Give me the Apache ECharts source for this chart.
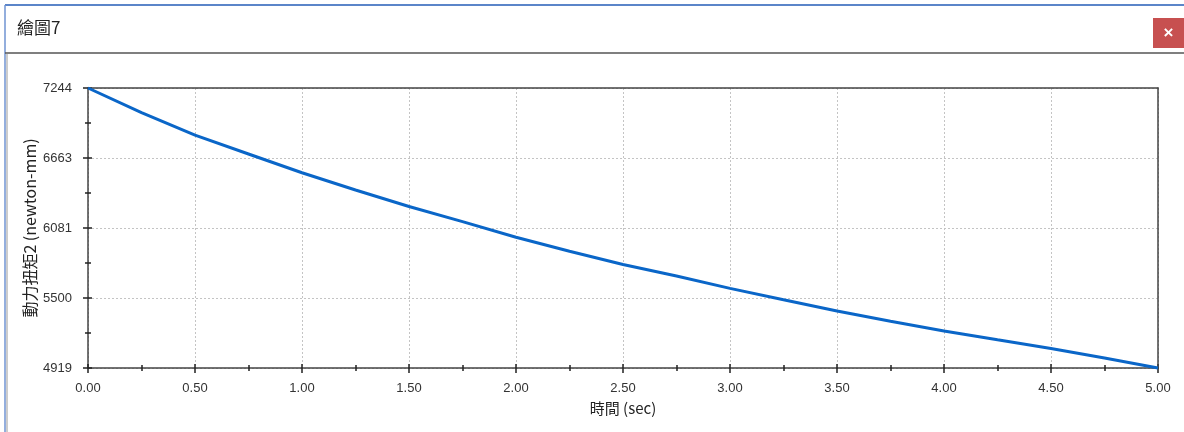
<!DOCTYPE html>
<html>
<head>
<meta charset="utf-8">
<title>繪圖7</title>
<script src="https://cdn.jsdelivr.net/npm/echarts@6/dist/echarts.min.js"></script>
<style>
  html, body { margin: 0; padding: 0; background: #ffffff; }
  #chart { width: 1184px; height: 432px; }
</style>
</head>
<body>
<div id="chart"></div>
<script>
// Sampled torque history of joint 2
const times = [0, 0.25, 0.5, 0.75, 1.0, 1.25, 1.5, 1.75, 2.0, 2.25, 2.5,
               2.75, 3.0, 3.25, 3.5, 3.75, 4.0, 4.25, 4.5, 4.75, 5.0];
const torque = [7244, 7040, 6852, 6696, 6540, 6397, 6260, 6134, 6005, 5888, 5779,
                5683, 5580, 5485, 5392, 5307, 5226, 5153, 5081, 5002, 4919];

// Y-axis tick values (equal steps between the extremes) and their labels
const yTicks = [4919, 5500.25, 6081.5, 6662.75, 7244];
const yTickLabels = ['4919', '5500', '6081', '6663', '7244'];
const yMinorTicks = [5209.625, 5790.875, 6372.125, 6953.375];

const windowTitle = '繪圖7';
const yName = '動力扭矩2 (newton-mm)';
const xName = '時間 (sec)';

const FONT = '"Liberation Sans", Arial, "Noto Sans CJK TC", sans-serif';
const CJK = '"Noto Sans CJK TC", "Liberation Sans", sans-serif';
const AXIS_COLOR = '#444444';
const TICK_COLOR = '#222222';
const GRID_LINE = { color: '#c4c4c4', type: [2, 2], width: 1 };

const seriesData = times.map((t, i) => [t, torque[i]]);
const yMin = yTicks[0];
const yMax = yTicks[yTicks.length - 1];

function yAxisBase(extra) {
  return Object.assign({
    type: 'value',
    gridIndex: 0,
    position: 'left',
    min: yMin,
    max: yMax,
    axisLine: { show: false },
    axisLabel: { show: false },
    splitLine: { show: false },
    axisTick: { show: false }
  }, extra);
}

function xAxisBase(extra) {
  return Object.assign({
    type: 'value',
    gridIndex: 0,
    position: 'bottom',
    min: 0,
    max: 5,
    interval: 0.5,
    axisLine: { show: false },
    axisLabel: { show: false },
    splitLine: { show: false },
    axisTick: { show: false }
  }, extra);
}

const chart = echarts.init(document.getElementById('chart'), null, { renderer: 'canvas' });

chart.setOption({
  backgroundColor: '#ffffff',
  animation: false,
  graphic: [
    // window frame
    { type: 'line', shape: { x1: 5, y1: 5, x2: 1184, y2: 5 }, style: { stroke: '#5b85c9', lineWidth: 2 }, z: 10 },
    { type: 'line', shape: { x1: 5, y1: 5, x2: 5, y2: 432 }, style: { stroke: '#6f93d2', lineWidth: 1.5 }, z: 10 },
    { type: 'line', shape: { x1: 5, y1: 53, x2: 1184, y2: 53 }, style: { stroke: '#555555', lineWidth: 1.5 }, z: 10 },
    { type: 'line', shape: { x1: 7, y1: 54, x2: 7, y2: 432 }, style: { stroke: '#9a9a9a', lineWidth: 1 }, z: 10 },
    {
      type: 'text', left: 17, top: 19, z: 10,
      style: { text: windowTitle, font: '17px ' + CJK, fill: '#222222' }
    },
    // close button
    { type: 'rect', shape: { x: 1153, y: 18, width: 31, height: 30 }, style: { fill: '#c75050' }, z: 10 },
    {
      type: 'text', x: 1168.5, y: 33, z: 11,
      style: { text: '×', font: 'bold 17px ' + FONT, fill: '#ffffff', align: 'center', verticalAlign: 'middle' }
    }
  ],
  grid: {
    left: 88, top: 88, width: 1070, height: 280,
    show: false
  },
  xAxis: [
    xAxisBase({
      name: xName,
      nameLocation: 'middle',
      nameGap: 33,
      nameTextStyle: { fontFamily: CJK, fontSize: 15, color: '#222222' },
      axisLine: { show: true, lineStyle: { color: AXIS_COLOR, width: 1.5 } },
      axisTick: { show: true, inside: false, length: 5, lineStyle: { color: TICK_COLOR, width: 1.5 } },
      minorTick: { show: true, splitNumber: 2, length: 3, lineStyle: { color: TICK_COLOR, width: 1.5 } },
      axisLabel: {
        show: true, margin: 14, fontFamily: FONT, fontSize: 13, color: '#333333',
        formatter: v => v.toFixed(2)
      },
      splitLine: { show: true, lineStyle: GRID_LINE }
    }),
    xAxisBase({
      axisTick: { show: true, inside: true, length: 4, lineStyle: { color: TICK_COLOR, width: 1.5 } },
      minorTick: { show: true, splitNumber: 2, length: 3, lineStyle: { color: TICK_COLOR, width: 1.5 } }
    }),
    // top frame edge
    xAxisBase({
      position: 'top',
      z: 3,
      axisLine: { show: true, lineStyle: { color: AXIS_COLOR, width: 1.5 } }
    })
  ],
  yAxis: [
    yAxisBase({
      name: yName,
      nameLocation: 'middle',
      nameGap: 50,
      nameMoveOverlap: false,
      nameTextStyle: { fontFamily: CJK, fontSize: 16, color: '#222222' },
      axisLine: { show: true, lineStyle: { color: AXIS_COLOR, width: 1.5 } },
      axisTick: {
        show: true, inside: false, length: 5, customValues: yTicks,
        lineStyle: { color: TICK_COLOR, width: 1.5 }
      },
      axisLabel: {
        show: true, margin: 16, fontFamily: FONT, fontSize: 13, color: '#333333',
        customValues: yTicks,
        formatter: v => yTickLabels[yTicks.indexOf(v)] ?? String(Math.round(v))
      },
      splitLine: { show: true, lineStyle: GRID_LINE }
    }),
    yAxisBase({
      axisTick: { show: true, inside: true, length: 4, customValues: yTicks, lineStyle: { color: TICK_COLOR, width: 1.5 } }
    }),
    yAxisBase({
      axisTick: { show: true, inside: false, length: 3, customValues: yMinorTicks, lineStyle: { color: TICK_COLOR, width: 1.5 } }
    }),
    yAxisBase({
      axisTick: { show: true, inside: true, length: 3, customValues: yMinorTicks, lineStyle: { color: TICK_COLOR, width: 1.5 } }
    }),
    // right frame edge
    yAxisBase({
      position: 'right',
      z: 3,
      axisLine: { show: true, lineStyle: { color: AXIS_COLOR, width: 1.5 } }
    })
  ],
  series: [
    {
      type: 'line',
      xAxisIndex: 0,
      yAxisIndex: 0,
      data: seriesData,
      showSymbol: false,
      clip: false,
      smooth: false,
      lineStyle: { color: '#0a66c8', width: 3 },
      z: 5
    }
  ]
});
</script>
</body>
</html>
